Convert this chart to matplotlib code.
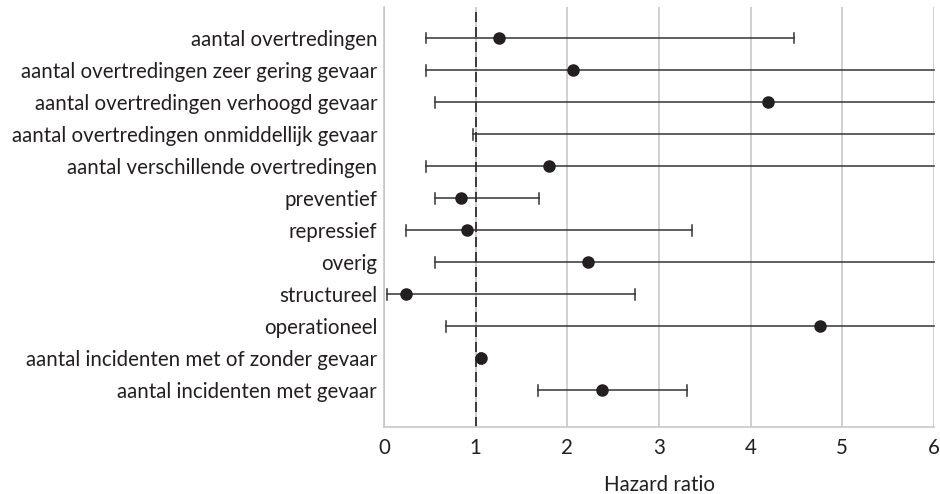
import numpy as np
import matplotlib.pyplot as plt

plt.rcParams['font.family'] = ['Lato', 'DejaVu Sans']

# data
labels = [
    "aantal overtredingen",
    "aantal overtredingen zeer gering gevaar",
    "aantal overtredingen verhoogd gevaar",
    "aantal overtredingen onmiddellijk gevaar",
    "aantal verschillende overtredingen",
    "preventief",
    "repressief",
    "overig",
    "structureel",
    "operationeel",
    "aantal incidenten met of zonder gevaar",
    "aantal incidenten met gevaar",
]
hr = [1.25, 2.06, 4.19, np.nan, 1.80, 0.84, 0.91, 2.22, 0.24, 4.76, 1.06, 2.38]
ci_low = [0.46, 0.46, 0.56, 0.97, 0.46, 0.56, 0.24, 0.56, 0.03, 0.68, 1.05, 1.68]
ci_high = [4.47, 9.0, 9.0, 9.0, 9.0, 1.69, 3.36, 9.0, 2.74, 9.0, 1.07, 3.31]

fig = plt.figure(figsize=(9.4, 4.94), dpi=100)
ax = fig.add_axes([384/940, 1 - 427/494, 550/940, 420/494])

ypos = np.arange(len(labels))
lc = '#333333'
for y, lo, hi in zip(ypos, ci_low, ci_high):
    ax.plot([lo, min(hi, 6)], [y, y], color=lc, lw=1.1, zorder=3, clip_on=False)
    ax.plot([lo, lo], [y - 0.17, y + 0.17], color=lc, lw=1.1, zorder=3)
    if hi <= 6:
        ax.plot([hi, hi], [y - 0.17, y + 0.17], color=lc, lw=1.1, zorder=3)
ax.plot(hr, ypos, 'o', color='#231f20', ms=8, zorder=4)

ax.axvline(1, color='#231f20', lw=1.2, ls=(0, (6, 3)), zorder=2)

ax.set_xlim(0, 6)
ax.set_ylim(12.15, -0.97)
ax.set_xticks(range(7))
ax.set_yticks(ypos)
ax.set_yticklabels(labels)
ax.tick_params(length=0, labelsize=14.8, colors='#231f20', pad=5)
ax.tick_params(axis='x', pad=8)
ax.grid(axis='x', color='#c8c8c8', lw=1.2)
ax.set_axisbelow(True)
for s in ['top', 'right']:
    ax.spines[s].set_visible(False)
for s in ['left', 'bottom']:
    ax.spines[s].set_color('#c8c8c8')
    ax.spines[s].set_linewidth(1.2)
ax.set_xlabel("Hazard ratio", fontsize=14.8, color='#231f20', labelpad=12)

fig.savefig("out.png", dpi=100)
